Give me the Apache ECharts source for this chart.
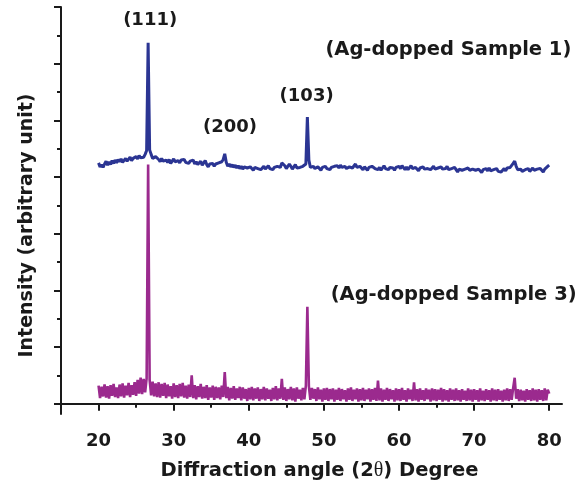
<!DOCTYPE html>
<html>
<head>
<meta charset="utf-8">
<script src="https://cdn.jsdelivr.net/npm/echarts@6/dist/echarts.min.js"></script>
<style>html,body{margin:0;padding:0;background:#fff}#c{width:588px;height:490px}</style>
</head>
<body>
<div id="c"></div>
<script>
// Diffraction angle grid: values start at 20 deg, one value every 0.2 deg
const angleStart = 20;
const angleStep = 0.2;

// Ag-dopped Sample 1 (blue), 20.0 .. 80.0
const sample1 = [
4.25,4.18,4.22,4.17,4.23,
4.28,4.21,4.27,4.22,4.29,
4.24,4.30,4.25,4.31,4.27,
4.32,4.26,4.29,4.33,4.28,
4.31,4.35,4.29,4.33,4.30,
4.36,4.32,4.38,4.34,4.37,
4.35,4.40,4.47,6.37,4.48,
4.40,4.33,4.30,4.36,4.39,
4.31,4.27,4.33,4.28,4.25,
4.30,4.26,4.31,4.24,4.28,
4.32,4.27,4.24,4.29,4.25,
4.30,4.27,4.31,4.26,4.29,
4.24,4.28,4.25,4.30,4.23,
4.27,4.22,4.25,4.28,4.21,
4.25,4.29,4.22,4.18,4.23,
4.20,4.24,4.19,4.23,4.21,
4.25,4.22,4.27,4.31,4.41,
4.26,4.19,4.23,4.18,4.22,
4.17,4.21,4.16,4.20,4.15,
4.19,4.14,4.18,4.21,4.16,
4.13,4.18,4.15,4.12,4.17,
4.20,4.15,4.18,4.13,4.16,
4.19,4.14,4.17,4.20,4.15,
4.18,4.13,4.17,4.15,4.19,
4.22,4.17,4.25,4.28,4.20,
4.15,4.18,4.23,4.19,4.14,
4.18,4.22,4.16,4.13,4.17,
4.14,4.19,4.16,4.23,5.06,
4.30,4.17,4.14,4.19,4.15,
4.13,4.18,4.15,4.12,4.17,
4.14,4.19,4.15,4.18,4.13,
4.17,4.14,4.19,4.16,4.20,
4.16,4.21,4.17,4.14,4.19,
4.15,4.12,4.18,4.21,4.16,
4.19,4.23,4.17,4.14,4.19,
4.16,4.13,4.18,4.15,4.12,
4.17,4.14,4.19,4.21,4.15,
4.18,4.13,4.17,4.12,4.16,
4.20,4.15,4.18,4.13,4.17,
4.20,4.16,4.12,4.17,4.14,
4.19,4.15,4.20,4.17,4.13,
4.18,4.13,4.16,4.20,4.15,
4.12,4.17,4.14,4.11,4.16,
4.13,4.18,4.14,4.11,4.15,
4.18,4.13,4.16,4.19,4.14,
4.11,4.16,4.13,4.18,4.14,
4.11,4.15,4.19,4.13,4.10,
4.15,4.12,4.17,4.13,4.09,
4.14,4.17,4.12,4.09,4.14,
4.11,4.16,4.12,4.09,4.14,
4.17,4.12,4.09,4.14,4.11,
4.08,4.13,4.10,4.15,4.11,
4.16,4.11,4.08,4.13,4.10,
4.15,4.10,4.13,4.09,4.12,
4.15,4.11,4.16,4.13,4.17,
4.20,4.24,4.28,4.19,4.13,
4.10,4.14,4.10,4.09,4.13,
4.11,4.15,4.10,4.13,4.16,
4.12,4.09,4.14,4.11,4.15,
4.12,4.09,4.14,4.11,4.19,
4.21
];

// Ag-dopped Sample 3 (purple), 20.0 .. 80.0
const sample3 = [
0.32,0.10,0.30,0.13,0.34,
0.11,0.31,0.09,0.33,0.14,
0.35,0.12,0.29,0.10,0.34,
0.13,0.36,0.11,0.32,0.15,
0.37,0.12,0.33,0.16,0.38,
0.14,0.42,0.18,0.46,0.17,
0.44,0.20,0.45,4.22,0.42,
0.15,0.39,0.13,0.36,0.12,
0.38,0.11,0.35,0.14,0.37,
0.10,0.34,0.13,0.31,0.09,
0.36,0.12,0.33,0.10,0.35,
0.13,0.37,0.11,0.32,0.09,
0.34,0.12,0.50,0.10,0.33,
0.08,0.31,0.12,0.35,0.09,
0.30,0.10,0.33,0.07,0.29,
0.11,0.32,0.07,0.30,0.10,
0.29,0.08,0.32,0.12,0.56,
0.10,0.30,0.06,0.28,0.09,
0.31,0.07,0.27,0.10,0.30,
0.06,0.29,0.09,0.26,0.05,
0.28,0.08,0.30,0.06,0.27,
0.09,0.29,0.05,0.26,0.08,
0.30,0.06,0.27,0.09,0.25,
0.05,0.28,0.08,0.31,0.06,
0.27,0.09,0.44,0.07,0.29,
0.05,0.26,0.08,0.30,0.06,
0.27,0.04,0.29,0.09,0.25,
0.06,0.28,0.08,0.32,1.71,
0.31,0.07,0.28,0.09,0.26,
0.05,0.29,0.08,0.25,0.04,
0.27,0.07,0.28,0.05,0.26,
0.08,0.27,0.04,0.25,0.07,
0.28,0.05,0.26,0.08,0.24,
0.04,0.27,0.07,0.29,0.05,
0.25,0.08,0.27,0.04,0.26,
0.06,0.28,0.05,0.25,0.08,
0.27,0.04,0.26,0.07,0.28,
0.05,0.41,0.06,0.27,0.04,
0.25,0.07,0.28,0.05,0.26,
0.08,0.24,0.04,0.27,0.06,
0.26,0.05,0.28,0.07,0.24,
0.04,0.27,0.08,0.25,0.05,
0.38,0.06,0.26,0.04,0.27,
0.07,0.24,0.05,0.27,0.08,
0.25,0.04,0.27,0.06,0.26,
0.05,0.25,0.07,0.28,0.04,
0.26,0.06,0.24,0.04,0.27,
0.07,0.25,0.05,0.27,0.06,
0.24,0.04,0.26,0.07,0.23,
0.05,0.27,0.06,0.25,0.04,
0.26,0.07,0.24,0.04,0.27,
0.06,0.23,0.05,0.26,0.07,
0.24,0.04,0.27,0.06,0.25,
0.05,0.26,0.07,0.23,0.04,
0.25,0.06,0.27,0.05,0.26,
0.07,0.28,0.46,0.09,0.26,
0.05,0.25,0.06,0.23,0.04,
0.26,0.07,0.24,0.05,0.27,
0.06,0.25,0.04,0.26,0.07,
0.24,0.05,0.27,0.06,0.25,
0.18
];

const xMajorTicks = [20, 30, 40, 50, 60, 70, 80];
const xMinorTicks = [15, 25, 35, 45, 55, 65, 75];
const yMajorTicks = [0, 1, 2, 3, 4, 5, 6, 7];
const yMinorTicks = [0.5, 1.5, 2.5, 3.5, 4.5, 5.5, 6.5];

const peakLabels = ['(111)', '(200)', '(103)'];
const peakLabelAt = [[26.87, 6.77], [37.5, 4.87], [47.7, 5.43]];
const sampleLabels = ['(Ag-dopped Sample 1)', '(Ag-dopped Sample 3)'];
const sampleLabelAt = [[50.2, 6.24], [50.9, 1.92]];

const FONT = '"DejaVu Sans", Verdana, sans-serif';
const INK = '#1a1a1a';
const xRange = [15, 81.7];
const yRange = [-0.18, 7];

const toPairs = arr => arr.map((v, i) => [+(angleStart + i * angleStep).toFixed(1), v]);

const chart = echarts.init(document.getElementById('c'), null, {renderer: 'canvas'});

const axisLineStyle = {show: true, lineStyle: {color: INK, width: 2}};

chart.setOption({
  animation: false,
  backgroundColor: '#ffffff',
  grid: {left: 61, right: 26, top: 7, bottom: 76, containLabel: false},
  xAxis: [{
    type: 'value', min: xRange[0], max: xRange[1],
    axisLine: axisLineStyle,
    axisTick: {show: true, inside: false, length: 7, lineStyle: {color: INK, width: 2}, customValues: xMajorTicks},
    axisLabel: {show: true, customValues: xMajorTicks, margin: 18, color: INK, fontFamily: FONT, fontWeight: 'bold', fontSize: 18},
    splitLine: {show: false},
    name: 'Diffraction angle (2{t|θ}) Degree',
    nameLocation: 'middle', nameGap: 47,
    nameTextStyle: {color: INK, fontFamily: FONT, fontWeight: 'bold', fontSize: 19.5, padding: [0, 0, 0, 16],
      rich: {t: {fontFamily: '"Liberation Serif", "Times New Roman", serif', fontWeight: 'normal', fontSize: 20, color: INK}}}
  }, {
    type: 'value', min: xRange[0], max: xRange[1], position: 'bottom', offset: 0,
    axisLine: {show: false},
    axisTick: {show: true, inside: false, length: 4, lineStyle: {color: INK, width: 2}, customValues: xMinorTicks},
    axisLabel: {show: false},
    splitLine: {show: false}
  }],
  yAxis: [{
    type: 'value', min: yRange[0], max: yRange[1],
    axisLine: axisLineStyle,
    axisTick: {show: true, inside: false, length: 7, lineStyle: {color: INK, width: 2}, customValues: yMajorTicks},
    axisLabel: {show: false},
    splitLine: {show: false},
    name: 'Intensity (arbitrary unit)',
    nameLocation: 'middle', nameGap: 24,
    nameTextStyle: {color: INK, fontFamily: FONT, fontWeight: 'bold', fontSize: 19, padding: [0, 30, 0, 0]}
  }, {
    type: 'value', min: yRange[0], max: yRange[1], position: 'left', offset: 0,
    axisLine: {show: false},
    axisTick: {show: true, inside: false, length: 4, lineStyle: {color: INK, width: 2}, customValues: yMinorTicks},
    axisLabel: {show: false},
    splitLine: {show: false}
  }],
  series: [{
    name: 'Sample 3', type: 'line', xAxisIndex: 0, yAxisIndex: 0,
    data: toPairs(sample3), showSymbol: false, symbol: 'none',
    lineStyle: {color: '#9b2a8e', width: 2.6}, z: 2
  }, {
    name: 'Sample 1', type: 'line', xAxisIndex: 0, yAxisIndex: 0,
    data: toPairs(sample1), showSymbol: false, symbol: 'none',
    lineStyle: {color: '#2b3593', width: 3}, z: 3
  }]
});

const texts = [];
peakLabels.forEach((t, i) => {
  const p = chart.convertToPixel({gridIndex: 0}, peakLabelAt[i]);
  texts.push({type: 'text', x: p[0], y: p[1], z: 10,
    style: {text: t, fill: INK, font: 'bold 18px ' + FONT, textAlign: 'center', textVerticalAlign: 'middle'}});
});
sampleLabels.forEach((t, i) => {
  const p = chart.convertToPixel({gridIndex: 0}, sampleLabelAt[i]);
  texts.push({type: 'text', x: p[0], y: p[1], z: 10,
    style: {text: t, fill: INK, font: 'bold 19.5px ' + FONT, textAlign: 'left', textVerticalAlign: 'middle'}});
});
chart.setOption({graphic: texts});
</script>
</body>
</html>
